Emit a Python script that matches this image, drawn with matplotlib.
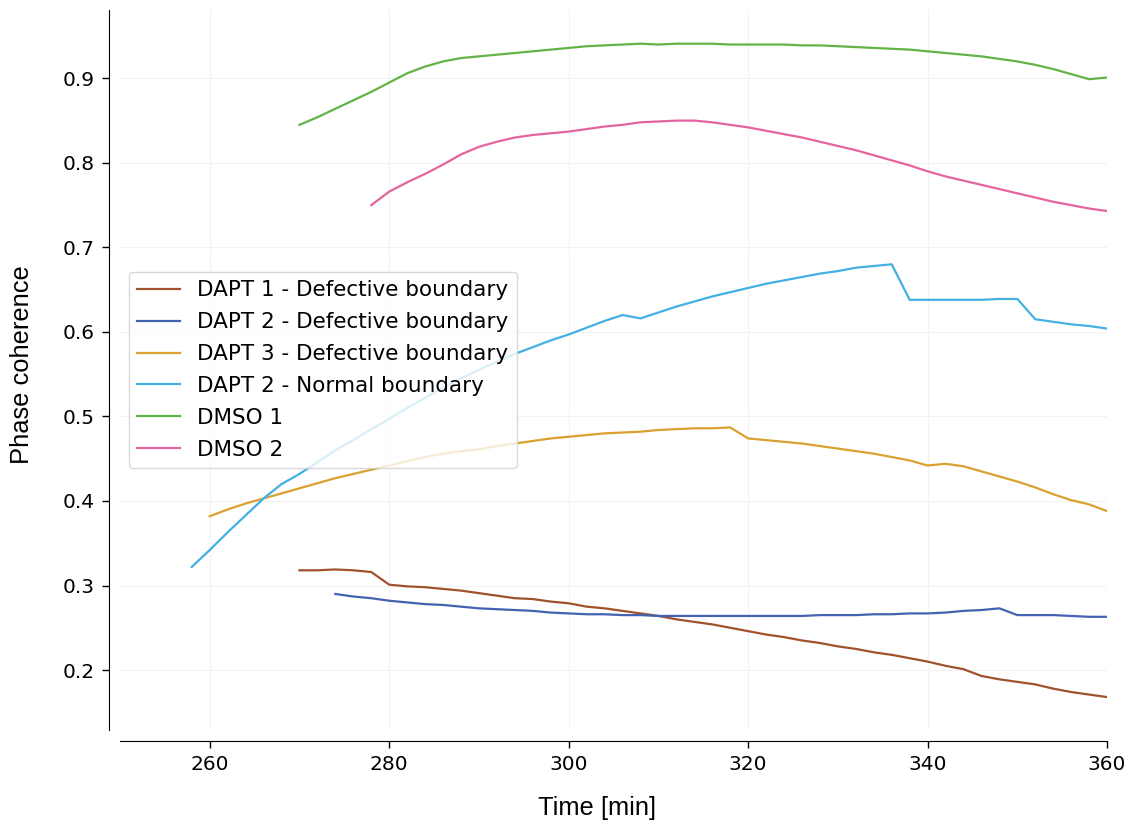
import numpy as np
import matplotlib
matplotlib.use("Agg")
import matplotlib.pyplot as plt

# time axis, 2 min steps
t_dapt1 = np.arange(270, 361, 2)
t_dapt2 = np.arange(274, 361, 2)
t_dapt3 = np.arange(260, 361, 2)
t_normal = np.arange(258, 361, 2)
t_dmso1 = np.arange(270, 361, 2)
t_dmso2 = np.arange(278, 361, 2)

dapt1_defective = [0.318, 0.318, 0.319, 0.318, 0.316, 0.301, 0.299, 0.298, 0.296, 0.294,
                   0.291, 0.288, 0.285, 0.284, 0.281, 0.279, 0.275, 0.273, 0.270, 0.267,
                   0.264, 0.260, 0.257, 0.254, 0.250, 0.246, 0.242, 0.239, 0.235, 0.232,
                   0.228, 0.225, 0.221, 0.218, 0.214, 0.210, 0.205, 0.201, 0.193, 0.189,
                   0.186, 0.183, 0.178, 0.174, 0.171, 0.168]

dapt2_defective = [0.290, 0.287, 0.285, 0.282, 0.280, 0.278, 0.277, 0.275, 0.273, 0.272,
                   0.271, 0.270, 0.268, 0.267, 0.266, 0.266, 0.265, 0.265, 0.264, 0.264,
                   0.264, 0.264, 0.264, 0.264, 0.264, 0.264, 0.264, 0.265, 0.265, 0.265,
                   0.266, 0.266, 0.267, 0.267, 0.268, 0.270, 0.271, 0.273, 0.265, 0.265,
                   0.265, 0.264, 0.263, 0.263]

dapt3_defective = [0.382, 0.390, 0.397, 0.403, 0.409, 0.415, 0.421, 0.427, 0.432, 0.437,
                   0.442, 0.447, 0.452, 0.456, 0.459, 0.461, 0.465, 0.468, 0.471, 0.474,
                   0.476, 0.478, 0.480, 0.481, 0.482, 0.484, 0.485, 0.486, 0.486, 0.487,
                   0.474, 0.472, 0.470, 0.468, 0.465, 0.462, 0.459, 0.456, 0.452, 0.448,
                   0.442, 0.444, 0.441, 0.435, 0.429, 0.423, 0.416, 0.408, 0.401, 0.396,
                   0.388]

dapt2_normal = [0.322, 0.342, 0.363, 0.383, 0.403, 0.420, 0.432, 0.446, 0.460, 0.472,
                0.485, 0.497, 0.510, 0.522, 0.534, 0.545, 0.555, 0.565, 0.574, 0.582,
                0.590, 0.597, 0.605, 0.613, 0.620, 0.616, 0.623, 0.630, 0.636, 0.642,
                0.647, 0.652, 0.657, 0.661, 0.665, 0.669, 0.672, 0.676, 0.678, 0.680,
                0.638, 0.638, 0.638, 0.638, 0.638, 0.639, 0.639, 0.615, 0.612, 0.609,
                0.607, 0.604]

dmso1 = [0.845, 0.854, 0.864, 0.874, 0.884, 0.895, 0.906, 0.914, 0.920, 0.924,
         0.926, 0.928, 0.930, 0.932, 0.934, 0.936, 0.938, 0.939, 0.940, 0.941,
         0.940, 0.941, 0.941, 0.941, 0.940, 0.940, 0.940, 0.940, 0.939, 0.939,
         0.938, 0.937, 0.936, 0.935, 0.934, 0.932, 0.930, 0.928, 0.926, 0.923,
         0.920, 0.916, 0.911, 0.905, 0.899, 0.901]

dmso2 = [0.750, 0.766, 0.777, 0.787, 0.798, 0.810, 0.819, 0.825, 0.830, 0.833,
         0.835, 0.837, 0.840, 0.843, 0.845, 0.848, 0.849, 0.850, 0.850, 0.848,
         0.845, 0.842, 0.838, 0.834, 0.830, 0.825, 0.820, 0.815, 0.809, 0.803,
         0.797, 0.790, 0.784, 0.779, 0.774, 0.769, 0.764, 0.759, 0.754, 0.750,
         0.746, 0.743]

series = [
    (t_dapt1, dapt1_defective, "DAPT 1 - Defective boundary", "#a0522d"),
    (t_dapt2, dapt2_defective, "DAPT 2 - Defective boundary", "#4363b0"),
    (t_dapt3, dapt3_defective, "DAPT 3 - Defective boundary", "#daa030"),
    (t_normal, dapt2_normal, "DAPT 2 - Normal boundary", "#42b0e2"),
    (t_dmso1, dmso1, "DMSO 1", "#63b346"),
    (t_dmso2, dmso2, "DMSO 2", "#e5649f"),
]

fig = plt.figure(figsize=(11.32, 8.24), dpi=100)
ax = fig.add_axes([0.106, 0.114, 0.872, 0.874])

for t, y, name, c in series:
    ax.plot(t, y, color=c, lw=1.6, label=name)

ax.set_xlim(250, 360)
ax.set_ylim(0.129, 0.981)
ax.set_xticks([260, 280, 300, 320, 340, 360])
ax.set_yticks(np.arange(0.2, 0.95, 0.1))
ax.grid(True, color="#f2f2f2", lw=0.8)
ax.set_axisbelow(True)

for side in ["top", "right"]:
    ax.spines[side].set_visible(False)
ax.spines["left"].set_position(("outward", 8))
ax.spines["bottom"].set_position(("outward", 8))
ax.tick_params(labelsize=14.5, length=5, width=1, pad=5)

# axis titles in an Arial-like face
ax.set_xlabel("Time [min]", fontsize=18.4, family="Liberation Sans")
ax.set_ylabel("Phase coherence", fontsize=18.4, family="Liberation Sans")
ax.xaxis.set_label_coords(0.483, -0.092)
ax.yaxis.set_label_coords(-0.087, 0.507)

ax.legend(loc="center left", fontsize=15.5, frameon=True, edgecolor="#d0d0d0",
          borderaxespad=0.4, labelspacing=0.55)

fig.savefig("out.png", dpi=100)
